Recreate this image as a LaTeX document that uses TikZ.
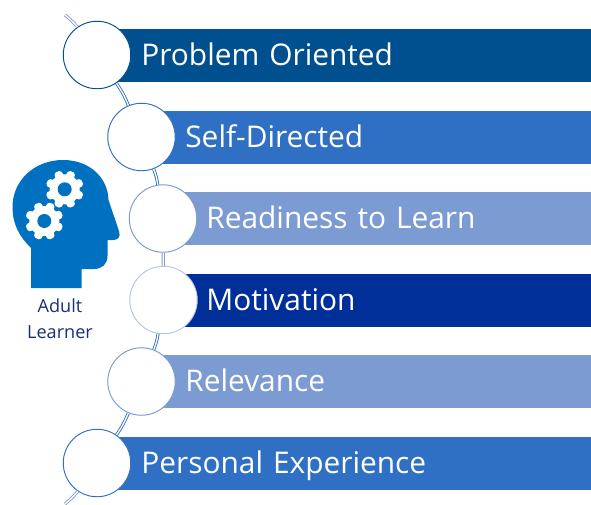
\documentclass[tikz,border=0pt]{standalone}
\usepackage{fontspec}
\setmainfont{Open Sans}
\definecolor{barDeep}{HTML}{00508F}
\definecolor{barMid}{HTML}{3070C4}
\definecolor{barPale}{HTML}{7C9BD3}
\definecolor{barNavy}{HTML}{002F9A}
\definecolor{ringPale}{HTML}{B5C5E5}
\definecolor{headBlue}{HTML}{0070C0}
\definecolor{labelNavy}{HTML}{1B2F78}
\tikzset{
  barbox/.style={anchor=west, inner ysep=0pt, inner xsep=0.6cm, minimum height=1.06cm, text width=#1*0.02cm,
    text height=0.6cm, text depth=0.22cm, text=white, font=\fontsize{17}{20}\selectfont, align=left},
  ringnode/.style={circle, draw=#1, fill=white, line width=0.55pt, minimum size=1.35cm, inner sep=0pt},
  linkline/.style={draw=#1, line width=0.5pt, double=white, double distance=0.75pt},
  headlabel/.style={text=labelNavy, font=\fontsize{10.3}{12}\selectfont, inner sep=0pt}
}
\begin{document}
\begin{tikzpicture}[x=0.02cm,y=-0.02cm]
  \useasboundingbox (0,0) rectangle (591,504);
  \clip (0,0) rectangle (591,504);
  % bars
  \node[barbox=450, fill=barDeep] (barProblem) at (111,55.5) {Problem Oriented};
  \node[barbox=406, fill=barMid] (barSelf) at (155,137.5) {Self-Directed};
  \node[barbox=385, fill=barPale] (barReadiness) at (176,218.5) {Readiness to Learn};
  \node[barbox=385, fill=barNavy] (barMotivation) at (176,300.5) {Motivation};
  \node[barbox=406, fill=barPale] (barRelevance) at (155,381.5) {Relevance};
  \node[barbox=450, fill=barMid] (barExperience) at (111,463.5) {Personal Experience};
  % circles
  \node[ringnode=barDeep] (ringProblem) at (97,55) {};
  \node[ringnode=barMid] (ringSelf) at (141.5,137) {};
  \node[ringnode=barPale] (ringReadiness) at (163,218.5) {};
  \node[ringnode=ringPale] (ringMotivation) at (163.5,300) {};
  \node[ringnode=barPale] (ringRelevance) at (141.5,381.5) {};
  \node[ringnode=barMid] (ringExperience) at (97,463) {};
  \coordinate (arcTop) at (65,15);
  \coordinate (arcBottom) at (65,504);
  % arc pieces
  \draw[linkline=barPale] (arcTop) to[bend left=4] (ringProblem);
  \draw[linkline=barMid] (ringProblem) to[bend left=6] (ringSelf);
  \draw[linkline=barMid] (ringSelf) to[bend left=6] (ringReadiness);
  \draw[linkline=barPale] (ringReadiness) -- (ringMotivation);
  \draw[linkline=barMid] (ringMotivation) to[bend left=6] (ringRelevance);
  \draw[linkline=barMid] (ringRelevance) to[bend left=6] (ringExperience);
  \draw[linkline=barPale] (ringExperience) to[bend left=4] (arcBottom);
  % head
  \fill[headBlue] (31,288) -- (31,248) .. controls (19,236) and (12.5,224) .. (12.5,207)
    .. controls (12.5,180) and (35,160) .. (63,160)
    .. controls (90,160) and (108,178) .. (108.5,200)
    -- (119,231) .. controls (121,237) and (118,240) .. (113,240)
    -- (107.5,240) -- (107.5,256) .. controls (107.5,264) and (102,269) .. (94,269)
    -- (81.7,269) -- (81.7,288) -- cycle;
  % gears
  \foreach \gearx/\geary in {64.7/189.3, 44.3/221} {
    \fill[white] (\gearx,\geary) circle (15);
    \foreach \ang in {0,45,...,315}
      \fill[white, rounded corners=1pt, shift={(\gearx,\geary)}, rotate=\ang+22.5]
        (-4.6,-12) -- (-3.6,-19) -- (3.6,-19) -- (4.6,-12) -- cycle;
    \fill[headBlue] (\gearx,\geary) circle (7);
  }
  \node[headlabel] (labelAdult) at (60,306) {Adult};
  \node[headlabel] (labelLearner) at (60,332) {Learner};
\end{tikzpicture}
\end{document}
